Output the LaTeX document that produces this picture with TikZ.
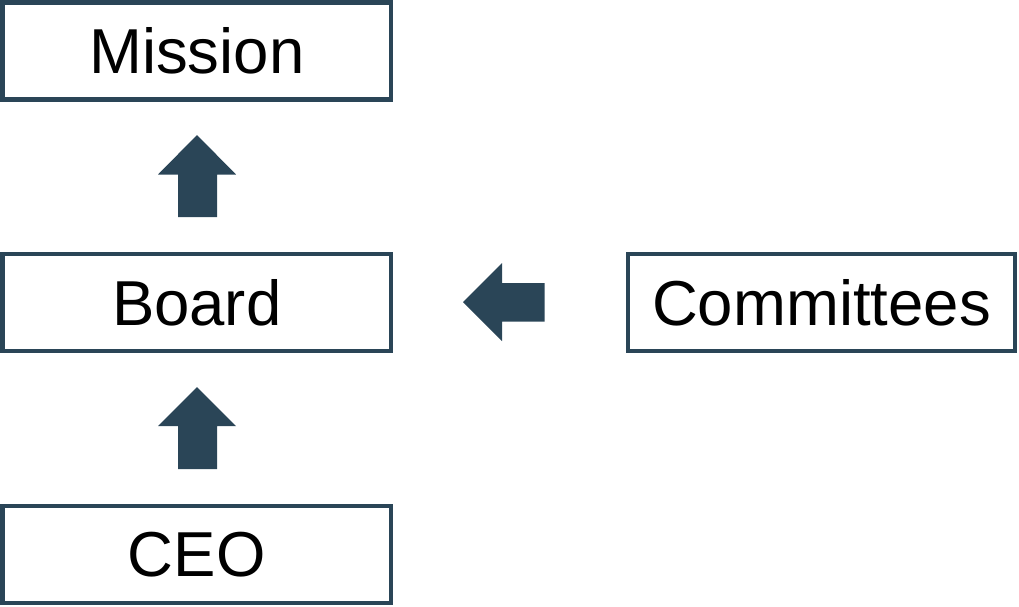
\documentclass[tikz,border=0pt]{standalone}
\usepackage{fontspec}
\setmainfont{Liberation Sans}
\definecolor{slate}{RGB}{42,69,87}
\tikzset{
  box/.style={draw=slate, line width=4.5pt, fill=white, inner sep=0pt, font=\fontsize{63.5}{70}\selectfont, text=black},
  blockarrow/.style={fill=slate, draw=none}
}
\begin{document}
\begin{tikzpicture}[x=1pt,y=-1pt]
\useasboundingbox (0,0) rectangle (1019,606);
\node[box, minimum width=388.5pt, minimum height=97pt] (mission) at (196.75,51) {\raisebox{-1.5pt}{Mission}};
\node[box, minimum width=388.5pt, minimum height=97pt] (board) at (196.75,302.5) {\raisebox{-1.5pt}{Board}};
\node[box, minimum width=388.5pt, minimum height=97pt] (ceo) at (196.75,554.5) {\raisebox{-1.5pt}{CEO}};
\node[box, minimum width=387pt, minimum height=97pt] (committees) at (821.5,302.5) {\raisebox{-1.5pt}{Committees}};
% up arrow board -> mission
\fill[blockarrow] (197,135) -- (236,174.5) -- (217,174.5) -- (217,217) -- (178,217) -- (178,174.5) -- (158,174.5) -- cycle;
% up arrow ceo -> board
\fill[blockarrow] (197,387) -- (236,426) -- (217,426) -- (217,469) -- (178,469) -- (178,426) -- (158,426) -- cycle;
% left arrow committees -> board
\fill[blockarrow] (463,302) -- (502,263) -- (502,283) -- (544.5,283) -- (544.5,321.5) -- (502,321.5) -- (502,341) -- cycle;
\end{tikzpicture}
\end{document}
